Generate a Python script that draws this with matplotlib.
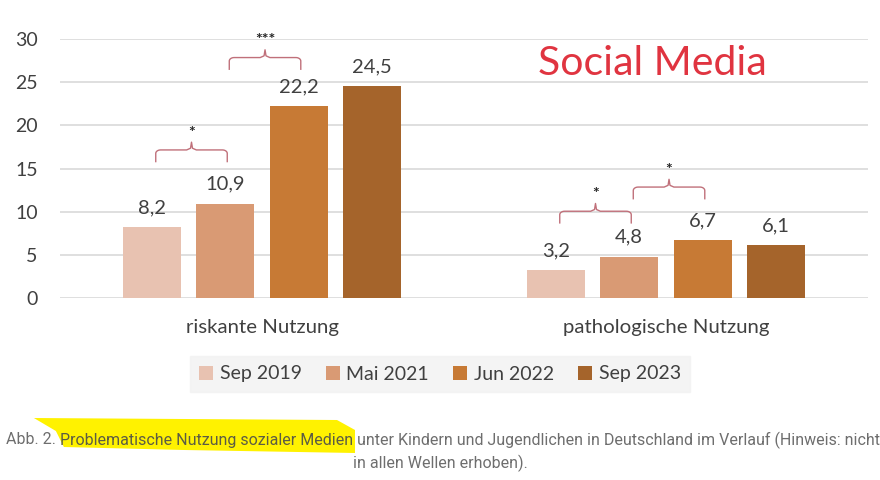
import matplotlib
matplotlib.use("Agg")
import matplotlib.pyplot as plt
import numpy as np
from matplotlib.patches import Polygon

categories = ["riskante Nutzung", "pathologische Nutzung"]
waves = ["Sep 2019", "Mai 2021", "Jun 2022", "Sep 2023"]
values = [
    [8.2, 3.2],    # Sep 2019
    [10.9, 4.8],   # Mai 2021
    [22.2, 6.7],   # Jun 2022
    [24.5, 6.1],   # Sep 2023
]
value_labels = [["8,2", "3,2"], ["10,9", "4,8"], ["22,2", "6,7"], ["24,5", "6,1"]]
# significance brackets: category, first wave, second wave, bottom, stars
sig_cat = [0, 0, 1, 1]
sig_from = [0, 1, 0, 1]
sig_to = [1, 2, 1, 2]
sig_low = [15.8, 26.5, 8.7, 11.5]
sig_stars = ["*", "***", "*", "*"]

colors = ["#e8c2b1", "#d99a74", "#c77a35", "#a5642b"]
TXT = "#404040"

plt.rcParams["font.family"] = ["Lato", "DejaVu Sans"]

fig = plt.figure(figsize=(8.8, 4.8), dpi=100)
ax = fig.add_axes([60 / 880, 1 - 298 / 480, 808 / 880, 259 / 480])

x = np.arange(len(categories))
step, width = 0.182, 0.144
for i, (wave, vals) in enumerate(zip(waves, values)):
    pos = x + (i - 1.5) * step
    ax.bar(pos, vals, width, color=colors[i], label=wave, zorder=3)
    for p, v, lab in zip(pos, vals, value_labels[i]):
        ax.text(p, v + 1.3, lab, ha="center", va="bottom", fontsize=14.5, color=TXT)

# curly brackets
bc = "#c0707a"
for c, a, b, lo, st in zip(sig_cat, sig_from, sig_to, sig_low, sig_stars):
    xa = c + (a - 1.5) * step + 0.01
    xb = c + (b - 1.5) * step + 0.005
    xm = (xa + xb) / 2
    h = 1.35
    t = np.linspace(0, np.pi / 2, 8)
    r = 0.012
    left = [(xa, lo), (xa, lo + h - 0.4)] + [(xa + r - r * np.cos(tt), lo + h - 0.4 + 0.4 * np.sin(tt)) for tt in t]
    mid = [(xm - r, lo + h), (xm - r * 0.2, lo + h + 0.2), (xm, lo + h + 0.9), (xm + r * 0.2, lo + h + 0.2), (xm + r, lo + h)]
    right = [(xb - r + r * np.cos(tt), lo + h - 0.4 + 0.4 * np.sin(tt)) for tt in t[::-1]] + [(xb, lo + h - 0.4), (xb, lo)]
    pts = np.array(left + mid + right)
    ax.plot(pts[:, 0], pts[:, 1], color=bc, lw=1.0, zorder=4, clip_on=False)
    ax.text(xm, lo + h + 1.2, st, ha="center", va="bottom", fontsize=11.5, color="#222222",
            fontweight="bold")

ax.set_xlim(-0.5, 1.5)
ax.set_ylim(0, 30)
ax.set_yticks(range(0, 31, 5))
ax.yaxis.grid(True, color="#d9d9d9", lw=1.2, zorder=0)
ax.tick_params(axis="y", length=0, labelsize=14, labelcolor=TXT, pad=16)
ax.set_xticks(x)
ax.set_xticklabels(categories, fontsize=14.7, color=TXT)
ax.tick_params(axis="x", length=0, pad=15)
for s in ax.spines.values():
    s.set_visible(False)

ax.text(0.733, 0.905, "Social Media", transform=ax.transAxes, ha="center", va="center",
        fontsize=29.5, color="#e03440")

leg = fig.legend(loc="center", bbox_to_anchor=(440 / 880, 1 - 374 / 480), ncol=4, frameon=True,
                 fontsize=14, handlelength=0.7, handleheight=0.7, handletextpad=0.35,
                 columnspacing=1.25, borderpad=0.5, fancybox=False)
leg.get_frame().set_facecolor("#f2f2f2")
leg.get_frame().set_edgecolor("#f2f2f2")
for t in leg.get_texts():
    t.set_color(TXT)

cap_font = dict(family=["Roboto", "DejaVu Sans"], fontsize=11.55, va="center")
renderer = fig.canvas.get_renderer()
xpos = 6
spans = []
for piece, col in [("Abb. 2. ", "#6e6e6e"), ("Problematische Nutzung sozialer Medien", "#5c5c44"),
                   (" unter Kindern und Jugendlichen in Deutschland im Verlauf (Hinweis: nicht", "#6e6e6e")]:
    tx = fig.text(xpos / 880, 1 - 440 / 480, piece, ha="left", color=col, **cap_font)
    w = tx.get_window_extent(renderer).width
    spans.append((xpos, xpos + w))
    xpos += w
fig.text(440 / 880, 1 - 463 / 480, "in allen Wellen erhoben).", ha="center", color="#6e6e6e", **cap_font)

# yellow marker highlight behind the emphasised part of the caption
h0, h1 = spans[1][0] - 26, spans[1][1] + 2
hl_px = [(h0, 418), (h1 - 18, 420), (h1, 430), (h1, 453), (h0 + 150, 450), (h0 + 30, 447), (h0 + 22, 431)]
hl = Polygon([(px / 880, 1 - py / 480) for px, py in hl_px], closed=True, transform=fig.transFigure,
             facecolor="#fff200", edgecolor="none", zorder=0)
fig.patches.append(hl)

fig.savefig("out.png", dpi=100, facecolor="white")
